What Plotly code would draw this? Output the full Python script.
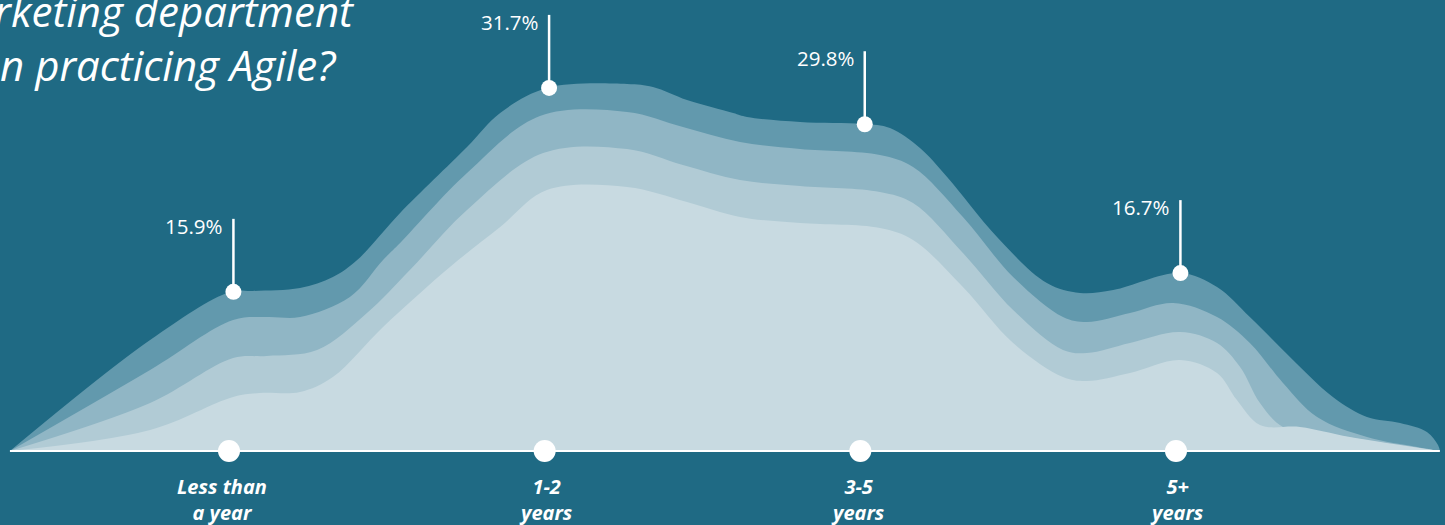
import numpy as np
import plotly.graph_objects as go

# ---------------- data ----------------
categories = ["Less than<br>a year", "1-2<br>years", "3-5<br>years", "5+<br>years"]
values = [15.9, 31.7, 29.8, 16.7]
value_labels = [f"{v:.1f}%" for v in values]
title_lines = ["How long has your", "marketing department", "been practicing Agile?"]

# ridge profiles (position in category units, ridge height)
outer_x = [-0.694, -0.250, 0.003, 0.076, 0.225, 0.329, 0.406, 0.542, 0.754, 0.859,
           1.007, 1.261, 1.343, 1.451, 1.597, 1.641, 1.809, 2.009, 2.094, 2.189,
           2.275, 2.433, 2.591, 2.696, 2.801, 3.013, 3.130, 3.234, 3.361, 3.497,
           3.605, 3.710, 3.795, 3.830, 3.836]
outer_h = [0, 111, 159, 160, 163, 174, 191, 238, 304, 338,
           363, 367, 364, 351, 338, 334, 329, 327, 323, 303,
           274, 214, 168, 158, 161, 178, 164, 134, 94, 54,
           34, 28, 19, 6, 0]

mid1_x = [-0.694, -0.250, 0.013, 0.120, 0.225, 0.383, 0.488, 0.542, 0.754, 0.985,
          1.261, 1.438, 1.619, 1.809, 2.062, 2.167, 2.325, 2.484, 2.642, 2.718,
          2.854, 2.991, 3.130, 3.234, 3.339, 3.447, 3.605, 3.764, 3.836]
mid1_h = [0, 81, 131, 134, 134, 154, 191, 208, 278, 335,
          339, 324, 309, 302, 296, 284, 234, 174, 134, 129,
          138, 148, 134, 108, 68, 34, 14, 4, 0]

mid2_x = [-0.694, -0.250, 0.013, 0.120, 0.279, 0.437, 0.573, 0.754, 0.995, 1.261,
          1.438, 1.619, 1.809, 2.062, 2.167, 2.325, 2.484, 2.642, 2.718, 2.854,
          3.013, 3.130, 3.203, 3.266, 3.339, 3.447, 3.656, 3.836]
mid2_h = [0, 48, 93, 95, 101, 138, 181, 241, 298, 302,
          286, 271, 265, 259, 248, 198, 141, 101, 98, 108,
          119, 108, 84, 48, 24, 19, 8, 0]

inner_x = [-0.694, -0.250, 0.013, 0.098, 0.225, 0.329, 0.488, 0.700, 0.859, 1.007,
           1.261, 1.451, 1.619, 1.809, 2.062, 2.167, 2.325, 2.484, 2.642, 2.718,
           2.854, 3.013, 3.130, 3.193, 3.266, 3.393, 3.551, 3.836]
inner_h = [0, 21, 54, 58, 59, 74, 124, 184, 224, 261,
           264, 249, 234, 228, 223, 211, 164, 108, 74, 70,
           78, 91, 78, 51, 26, 24, 14, 0]

# ---------------- style ----------------
BG = "#1f6a84"
layers = [
    (outer_x, outer_h, "#6299ad"),
    (mid1_x, mid1_h, "#90b6c5"),
    (mid2_x, mid2_h, "#b1cbd5"),
    (inner_x, inner_h, "#c8dae1"),
]

W, H = 1445, 525
PX_PER_CAT = (1176 - 229) / 3.0
X0_PX = 229
BASE_PX = 451
x_range = [-X0_PX / PX_PER_CAT, (W - X0_PX) / PX_PER_CAT]
y_range = [BASE_PX - H, BASE_PX]

fig = go.Figure()

for lx, lh, col in layers:
    fig.add_trace(go.Scatter(
        x=lx, y=lh, mode="lines", line=dict(color=col, width=0, shape="spline", smoothing=1.0),
        fill="tozeroy", fillcolor=col, hoverinfo="skip", showlegend=False))

# baseline
fig.add_trace(go.Scatter(
    x=[outer_x[0], outer_x[-1]], y=[0, 0], mode="lines",
    line=dict(color="white", width=2), hoverinfo="skip", showlegend=False))

cat_pos = np.arange(len(categories))
fig.add_trace(go.Scatter(
    x=cat_pos, y=np.zeros(len(categories)), mode="markers",
    marker=dict(color="white", size=22), hoverinfo="skip", showlegend=False))

# value markers on the outer ridge
DOT_SHIFT = 0.014
dot_x = cat_pos + DOT_SHIFT
dot_h = np.interp(dot_x, outer_x, outer_h)
STEM = 73
sx, sy = [], []
for x, h in zip(dot_x, dot_h):
    sx += [x, x, None]
    sy += [h, h + STEM, None]
fig.add_trace(go.Scatter(
    x=sx, y=sy, mode="lines", line=dict(color="white", width=2.5),
    hoverinfo="skip", showlegend=False))
fig.add_trace(go.Scatter(
    x=dot_x, y=dot_h, mode="markers", marker=dict(color="white", size=16),
    hoverinfo="skip", showlegend=False))

for x, h, lab in zip(dot_x, dot_h, value_labels):
    fig.add_annotation(
        x=x, y=h + STEM - 7, text=lab, showarrow=False, xanchor="right", yanchor="middle",
        xshift=-8, font=dict(family="Open Sans", size=20.5, color="white"))

label_shift = [-7, 1, -2, 1]
for x, lab, xs in zip(cat_pos, categories, label_shift):
    fig.add_annotation(
        x=x, y=0, text=f"<b><i>{lab}</i></b>", showarrow=False, xanchor="center",
        yanchor="top", yshift=-20, xshift=xs, align="center",
        font=dict(family="Open Sans", size=20, color="white"))

fig.add_annotation(
    xref="paper", yref="paper", x=-68 / W, y=1 - 95 / H, xanchor="left", yanchor="bottom",
    align="left", showarrow=False, text="<i>" + "<br>".join(title_lines) + "</i>",
    font=dict(family="Open Sans", size=42, color="white"))

fig.update_layout(
    width=W, height=H, margin=dict(l=0, r=0, t=0, b=0),
    paper_bgcolor=BG, plot_bgcolor=BG, showlegend=False,
    xaxis=dict(range=x_range, visible=False, fixedrange=True),
    yaxis=dict(range=y_range, visible=False, fixedrange=True),
)

fig.write_html("out.html", config={"displayModeBar": False})
